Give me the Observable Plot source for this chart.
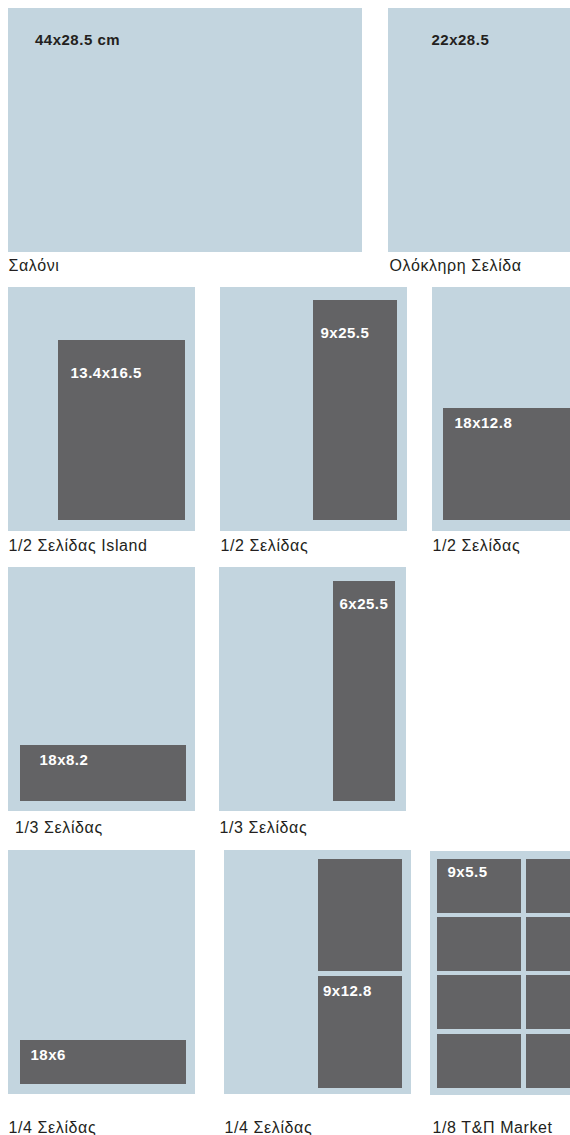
<!DOCTYPE html>
<html>
<head>
<meta charset="utf-8">
<script src="https://cdn.jsdelivr.net/npm/d3@7"></script>
<script src="https://cdn.jsdelivr.net/npm/@observablehq/plot@0.6"></script>
<style>
  html, body { margin: 0; padding: 0; background: #fff; }
  #chart svg { display: block; }
</style>
</head>
<body>
<div id="chart"></div>
<script>
// ---- Data ----
const panelNames = ["Σαλόνι", "Ολόκληρη Σελίδα", "1/2 Σελίδας Island", "1/2 Σελίδας", "1/2 Σελίδας",
  "1/3 Σελίδας", "1/3 Σελίδας", "1/4 Σελίδας", "1/4 Σελίδας", "1/8 Τ&Π Market"];
const sizeLabels = ["44x28.5 cm", "22x28.5", "13.4x16.5", "9x25.5", "18x12.8",
  "18x8.2", "6x25.5", "18x6", "9x12.8", "9x5.5"];

// ---- Layout (diagram units) ----
const pageBoxes = [
  [8, 362, 8, 252], [388, 570, 8, 252],
  [8, 195, 287, 531], [220, 407, 287, 531], [432, 570, 287, 531],
  [8, 195, 567, 811], [219, 406, 567, 811],
  [8, 195, 850, 1094], [224, 411, 850, 1094], [430, 570, 851, 1095]
];
const adBoxes = [
  [58, 185, 340, 520], [313, 397, 300, 520], [443, 570, 408, 520],
  [20, 186, 745, 801], [333, 395, 581, 801],
  [20, 186, 1040, 1084],
  [318, 402, 859, 971], [318, 402, 976, 1088],
  [437, 521, 859, 913], [526, 570, 859, 913],
  [437, 521, 917, 971], [526, 570, 917, 971],
  [437, 521, 975, 1029], [526, 570, 975, 1029],
  [437, 521, 1034, 1088], [526, 570, 1034, 1088]
];
const sizeAnchors = [[34.5, 44.5], [431, 44.5], [70, 377], [320, 337], [454, 427],
  [39, 764], [339, 608], [30, 1059], [322.5, 995], [447, 876]];
const nameAnchors = [[8, 270.5], [389, 270.5], [8, 550.5], [220, 550.5], [432, 550.5],
  [14.5, 832], [219, 832], [8, 1132], [224, 1132], [432, 1132]];

const toRect = ([x1, x2, y1, y2]) => ({x1, x2, y1, y2});
const pages = pageBoxes.map(toRect);
const ads = adBoxes.map(toRect);
const sizes = sizeLabels.map((t, i) => ({t, x: sizeAnchors[i][0], y: sizeAnchors[i][1], dark: i < 2}));
const names = panelNames.map((t, i) => ({t, x: nameAnchors[i][0], y: nameAnchors[i][1]}));

const font = "'Liberation Sans', Arial, Helvetica, sans-serif";

const chart = Plot.plot({
  width: 570,
  height: 1135,
  margin: 0,
  style: {fontFamily: font, background: "#fff"},
  x: {domain: [0, 570], range: [0, 570], axis: null},
  y: {domain: [0, 1135], range: [0, 1135], axis: null},
  marks: [
    Plot.rect(pages, {x1: "x1", x2: "x2", y1: "y1", y2: "y2", fill: "#c3d5df"}),
    Plot.rect(ads, {x1: "x1", x2: "x2", y1: "y1", y2: "y2", fill: "#636365"}),
    Plot.text(sizes, {x: "x", y: "y", text: "t", textAnchor: "start", lineAnchor: "bottom",
      fontSize: 15, fontWeight: "bold", fill: d => d.dark ? "#231f20" : "#ffffff"}),
    Plot.text(names, {x: "x", y: "y", text: "t", textAnchor: "start", lineAnchor: "bottom",
      fontSize: 16, fill: "#231f20"})
  ]
});
const textGroups = d3.select(chart).selectAll("g[aria-label='text']").nodes();
if (textGroups[0]) d3.select(textGroups[0]).style("letter-spacing", "0.5px");
if (textGroups[1]) d3.select(textGroups[1]).style("letter-spacing", "0.6px");
document.getElementById("chart").appendChild(chart);
</script>
</body>
</html>
